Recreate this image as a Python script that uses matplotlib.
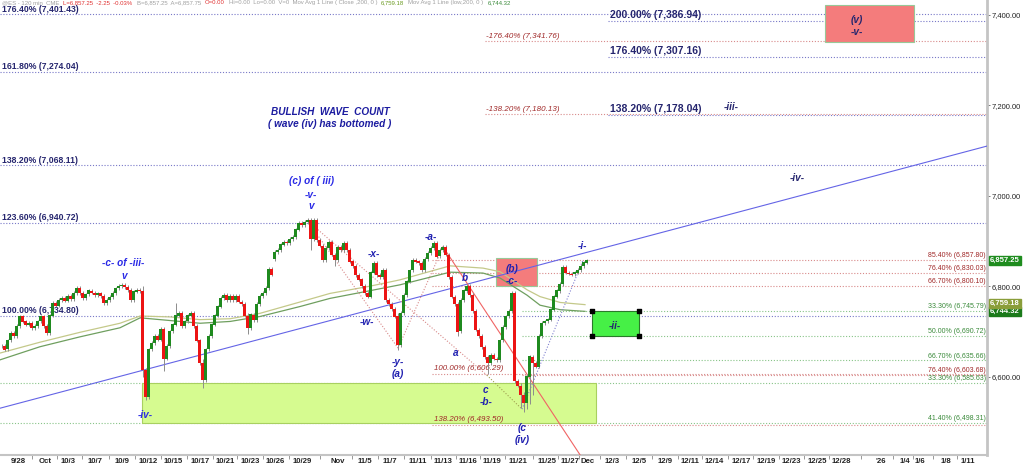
import matplotlib.pyplot as plt
import matplotlib.patches as mpatches
import matplotlib.transforms as mtransforms
import numpy as np

plt.rcParams['font.family'] = ['Liberation Sans', 'DejaVu Sans']

# ES 120 min closes, one per bar slot
closes = [6668, 6660, 6680, 6696, 6690, 6712, 6733, 6722, 6715, 6718,
          6708, 6712, 6722, 6733, 6712, 6696, 6735, 6763, 6757, 6770,
          6774, 6768, 6778, 6772, 6785, 6796, 6785, 6774, 6782, 6790,
          6786, 6780, 6784, 6778, 6763, 6770, 6776, 6785, 6795, 6800,
          6803, 6798, 6792, 6770, 6788, 6792, 6790, 6614, 6555, 6660,
          6674, 6690, 6682, 6705, 6640, 6668, 6700, 6715, 6735, 6740,
          6712, 6722, 6735, 6740, 6712, 6680, 6630, 6592, 6660, 6690,
          6715, 6735, 6755, 6774, 6780, 6770, 6778, 6770, 6778, 6766,
          6760, 6735, 6707, 6737, 6725, 6760, 6778, 6785, 6796, 6838,
          6826, 6876, 6880, 6892, 6898, 6895, 6905, 6909, 6925, 6940,
          6935, 6942, 6946, 6905, 6946, 6902, 6890, 6858, 6885, 6898,
          6870, 6858, 6887, 6880, 6895, 6880, 6855, 6845, 6825, 6815,
          6800, 6785, 6777, 6830, 6851, 6825, 6821, 6836, 6770, 6760,
          6750, 6733, 6670, 6740, 6780, 6810, 6835, 6858, 6855, 6851,
          6836, 6860, 6873, 6885, 6895, 6866, 6880, 6887, 6870, 6820,
          6777, 6760, 6700, 6770, 6790, 6800, 6780, 6745, 6704, 6690,
          6665, 6644, 6630, 6648, 6640, 6637, 6680, 6710, 6733, 6745,
          6785, 6590, 6580, 6560, 6542, 6600, 6644, 6630, 6622, 6690,
          6718, 6722, 6726, 6748, 6777, 6790, 6805, 6843, 6830, 6828,
          6826, 6830, 6836, 6845, 6852, 6857.25]
open_gaps = {91: 6860}
# slot -> (high, low) for the bars with long wicks
wick_spikes = {47: (6800, 6600), 48: (6620, 6548), 54: (6706, 6612), 58: (6762, 6712),
               67: (6640, 6575), 82: (6740, 6695), 103: (6946, 6880), 111: (6872, 6845),
               132: (6740, 6658), 152: (6762, 6690), 162: (6648, 6605), 170: (6790, 6740),
               171: (6787, 6585), 173: (6585, 6530), 174: (6565, 6522), 175: (6605, 6528),
               176: (6646, 6540), 177: (6648, 6560)}

# 200 bar moving averages
ma_slots = [-0.5, 12.8, 26.2, 39.5, 46.2, 56.2, 66.2, 76.2, 86.2, 99.5,
            109.5, 122.8, 132.8, 149.5, 160.5, 166.2, 175.2, 179.5, 186.2, 194.5]
ma_close = [6652, 6676, 6698, 6718, 6734, 6732, 6726, 6728, 6740, 6765,
            6784, 6800, 6814, 6845, 6840, 6832, 6792, 6777, 6764, 6759.18]
ma_low = [6637, 6666, 6688, 6708, 6730, 6724, 6718, 6722, 6733, 6755,
          6773, 6790, 6803, 6831, 6829, 6818, 6780, 6758, 6748, 6744.32]

# wave pivots (slot, price)
peak = (101.8, 6946)
y_low = (132.2, 6663)
a_top = (147.2, 6887)
b_low = (161.8, 6603)
c_low = (173.5, 6528)
i_top = (193.8, 6857)
c_leg_end = (197.0, 6385)
trend = [(-0.5, 6530), (328.5, 7110)]

# fib levels
full_blue = [7401.43, 7274.04, 7068.11, 6940.72, 6734.80]
full_blue_lbl = ['176.40% (7,401.43)', '161.80% (7,274.04)', '138.20% (7,068.11)',
                 '123.60% (6,940.72)', '100.00% (6,734.80)']
ext_blue = [7386.94, 7307.16, 7178.04]
ext_blue_lbl = ['200.00% (7,386.94)', '176.40% (7,307.16)', '138.20% (7,178.04)']
ext_red = [7341.76, 7180.13]
ext_red_lbl = ['-176.40% (7,341.76)', '-138.20% (7,180.13)']
proj_red = [6606.29, 6493.50]
proj_red_lbl = ['100.00% (6,606.29)', '138.20% (6,493.50)']
retr_red = [6857.80, 6830.03, 6800.10]
retr_red_lbl = ['85.40% (6,857.80)', '76.40% (6,830.03)', '66.70% (6,800.10)']
retr_green = [6745.79, 6690.72, 6635.66]
retr_green_lbl = ['33.30% (6,745.79)', '50.00% (6,690.72)', '66.70% (6,635.66)']
low_red = 6603.68
low_green = [6585.63, 6498.31]
low_green_lbl = ['33.30% (6,585.63)', '41.40% (6,498.31)']

tick_slots = [5.5, 14.5, 22.2, 31.2, 40.2, 48.8, 57.2, 66.2, 74.5, 82.8, 91.2, 100.2,
              112.2, 121.2, 129.5, 138.8, 147.2, 155.5, 163.5, 172.2, 181.8, 189.5,
              195.2, 203.5, 212.5, 221.2, 229.5, 237.5, 246.5, 254.8, 263.2, 271.8,
              279.8, 293.2, 301.2, 306.2, 314.8, 322.2]
tick_labels = ['9/28', 'Oct', '10/3', '10/7', '10/9', '10/12', '10/15', '10/17', '10/21',
               '10/23', '10/26', '10/29', 'Nov', '11/5', '11/7', '11/11', '11/13', '11/16',
               '11/19', '11/21', '11/25', '11/27', 'Dec', '12/3', '12/5', '12/9', '12/11',
               '12/14', '12/17', '12/19', '12/23', '12/25', '12/28', "'26", '1/4', '1/6',
               '1/8', '1/11']

NAVY = '#25256e'
WAVE = '#2020b0'
WAVE2 = '#2a2ae6'
DRED = '#a02828'
DGRN = '#3a8a3a'
BLUE_DOT = '#7878c8'
RED_DOT = '#d88a8a'
GRN_DOT = '#88c488'

fig = plt.figure(figsize=(10.24, 4.69), dpi=100)
ax = fig.add_axes([0, 14 / 469, 987 / 1024, 455 / 469])
ax.set_xlim(-0.5, 328.5)
ax.set_ylim(6426.5, 7433.2)

dot = (0, (1, 1.6))

def hline(y, x0, color):
    ax.plot([x0, 328.5], [y, y], color=color, lw=0.8, ls=dot, zorder=1)

for v in full_blue:
    hline(v, -0.5, BLUE_DOT)
for v in ext_blue:
    hline(v, 202.2, BLUE_DOT)
for v in ext_red:
    hline(v, 161.2, RED_DOT)
for v in retr_red + proj_red:
    hline(v, 143.5, RED_DOT)
for v in retr_green:
    hline(v, 173.5, GRN_DOT)
hline(low_red, 173.5, RED_DOT)
for v in low_green:
    hline(v, -0.5, GRN_DOT)

# boxes
ax.add_patch(mpatches.Rectangle((46.8, low_green[1]), 198.2 - 46.8, low_green[0] - low_green[1],
                                facecolor='#d6fb90', edgecolor='#a8d060', lw=0.8, zorder=2))
ax.add_patch(mpatches.Rectangle((164.8, 6800.10), 178.5 - 164.8, 6862 - 6800.10,
                                facecolor='#f47c7c', edgecolor='#98c898', lw=0.8, zorder=2))
ax.add_patch(mpatches.Rectangle((196.8, 6690.72), 212.5 - 196.8, 6745.79 - 6690.72,
                                facecolor='#46f046', edgecolor='#2a7a2a', lw=0.8, zorder=2))
ax.scatter([196.8, 212.5, 196.8, 212.5], [6690.72, 6690.72, 6745.79, 6745.79],
           marker='s', s=8, color='black', zorder=3)
ax.add_patch(mpatches.Rectangle((274.5, 7340), 304.2 - 274.5, 7423 - 7340,
                                facecolor='#f47c7c', edgecolor='#98c898', lw=0.8, zorder=2))

# moving averages
ax.plot(ma_slots, ma_close, color='#c4c98a', lw=0.9, zorder=3)
ax.plot(ma_slots, ma_low, color='#6f9f5f', lw=0.9, zorder=3)

# trendline and wave paths
ax.plot([trend[0][0], trend[1][0]], [trend[0][1], trend[1][1]], color='#6464e6', lw=0.8, zorder=3)
for p, q, c in [(peak, y_low, RED_DOT), (peak, b_low, RED_DOT), (y_low, a_top, RED_DOT),
                (b_low, c_low, '#a0a050'), (c_low, i_top, '#8080d0')]:
    ax.plot([p[0], q[0]], [p[1], q[1]], color=c, lw=0.8, ls=dot, zorder=3)
ax.plot([a_top[0], c_leg_end[0]], [a_top[1], c_leg_end[1]], color='#f06464', lw=0.8, zorder=3)

# candles
x = np.arange(len(closes))
c = np.array(closes, dtype=float)
o = np.r_[c[0], c[:-1]]
for k, v in open_gaps.items():
    o[k] = v
hi = np.maximum(o, c) + 4
lo = np.minimum(o, c) - 4
for k, (h, l) in wick_spikes.items():
    hi[k] = max(h, hi[k])
    lo[k] = min(l, lo[k])
ax.vlines(x, lo, hi, color='#8c8c8c', lw=0.7, zorder=4)
up = c >= o
ax.bar(x[up], (c - o)[up] + 0.5, bottom=o[up], width=0.8, color='#1f8a1f', zorder=5)
ax.bar(x[~up], (c - o)[~up] - 0.5, bottom=o[~up], width=0.8, color='#ec1414', zorder=5)

# fib labels
for v, s in zip(full_blue, full_blue_lbl):
    ax.text(0.2, v + 1, s, color=NAVY, fontsize=6.2, fontweight='bold', va='bottom', ha='left')
for v, s in zip(ext_blue, ext_blue_lbl):
    ax.text(202.8, v + 2, s, color=NAVY, fontsize=7.5, fontweight='bold', va='bottom', ha='left')
for v, s in zip(ext_red, ext_red_lbl):
    ax.text(161.6, v + 3, s, color=DRED, fontsize=5.8, style='italic', va='bottom', ha='left')
for v, s in zip(proj_red, proj_red_lbl):
    ax.text(144.2, v + 3, s, color=DRED, fontsize=5.7, style='italic', va='bottom', ha='left')
right_lbls = list(zip(retr_red, retr_red_lbl, [DRED] * 3)) + \
    list(zip(retr_green, retr_green_lbl, [DGRN] * 3)) + \
    [(low_red, '76.40% (6,603.68)', DRED)] + list(zip(low_green, low_green_lbl, [DGRN] * 2))
for v, s, col in right_lbls:
    ax.text(328.2, v + 2, s, color=col, fontsize=5.0, va='bottom', ha='right')

# wave labels
waves = [('(c) of ( iii)', 103.2, 7032.7, WAVE2), ('-v-', 103.2, 7001.8, WAVE2), ('v', 103.2, 6977.4, WAVE2),
         ('-c- of -iii-', 40.5, 6851.3, WAVE2), ('v', 40.8, 6822.6, WAVE2), ('-iv-', 47.8, 6515, WAVE2),
         ('-x-', 124.2, 6871, WAVE), ('-w-', 121.8, 6720.8, WAVE), ('-y-', 132.2, 6632.3, WAVE),
         ('(a)', 132.2, 6605.7, WAVE), ('-a-', 143.2, 6908.8, WAVE), ('b', 154.5, 6818, WAVE),
         ('a', 151.5, 6652, WAVE), ('c', 161.2, 6570, WAVE), ('-b-', 161.5, 6543.8, WAVE),
         ('(c', 173.5, 6486.3, WAVE), ('(iv)', 173.5, 6459.7, WAVE), ('(b)', 170.2, 6838, WAVE),
         ('-c-', 170.0, 6811.5, WAVE), ('-i-', 193.8, 6889, WAVE), ('-ii-', 204.5, 6712, NAVY),
         ('-iii-', 243.2, 7196.5, NAVY), ('-iv-', 265.2, 7039.4, NAVY),
         ('(v)', 285.2, 7389, NAVY), ('-v-', 285.2, 7362.4, NAVY)]
for s, xx, yy, col in waves:
    ax.text(xx, yy, s, color=col, fontsize=7.2, fontweight='bold', style='italic',
            ha='center', va='center', zorder=6)
ax.text(109.5, 7185.4, 'BULLISH  WAVE  COUNT', color='#1c1ca0', fontsize=7.2,
        fontweight='bold', style='italic', ha='center', va='center')
ax.text(109.5, 7158.8, '( wave (iv) has bottomed )', color='#1c1ca0', fontsize=7.2,
        fontweight='bold', style='italic', ha='center', va='center')

# axes styling
for side in ['left', 'top']:
    ax.spines[side].set_visible(False)
ax.spines['right'].set_color('#c4c4c4')
ax.spines['right'].set_linewidth(2)
ax.spines['bottom'].set_color('#c4c4c4')
ax.spines['bottom'].set_linewidth(1.5)
ax.yaxis.tick_right()
ax.set_yticks([6600, 6800, 7000, 7200, 7400])
ax.set_yticklabels(['6,600.00', '6,800.00', '7,000.00', '7,200.00', '7,400.00'])
ax.tick_params(axis='y', length=2.5, width=0.6, color='#666666', pad=0.5, labelsize=5.5,
               labelcolor='#222222')
ax.set_xticks(tick_slots)
ax.set_xticklabels(tick_labels)
ax.set_xticks([(a + b) / 2 for a, b in zip(tick_slots[:-1], tick_slots[1:])], minor=True)
ax.tick_params(axis='x', which='major', length=0, pad=2.5, labelsize=5.6, labelcolor='#222222')
ax.tick_params(axis='x', which='minor', length=3, width=0.6, color='#888888')
for lab in ax.get_xticklabels():
    lab.set_fontweight('bold')

# last price tags
trans = mtransforms.blended_transform_factory(ax.transAxes, ax.transData)
for v, s, col in [(6857.25, '6,857.25', '#1e8c1e'), (6744.32, '6,744.32', '#1a7a1a'),
                  (6761.5, '6,759.18', '#8a9e3a')]:
    ax.text(1.003, v, s, transform=trans, color='white', fontsize=5.5, fontweight='bold',
            ha='left', va='center', zorder=7,
            bbox=dict(boxstyle='square,pad=0.12', facecolor=col, edgecolor=col))

# header line
renderer = fig.canvas.get_renderer()
hx = 2 / 1024
for s, col in [('@ES - 120 min  CME', '#a0a0a0'), ('L=6,857.25  -2.25  -0.03%', '#e03030'),
               ('B=6,857.25  A=6,857.75', '#a0a0a0'), ('O=0.00', '#e03030'),
               ('Hi=0.00  Lo=0.00  V=0  Mov Avg 1 Line ( Close ,200, 0 )', '#a0a0a0'),
               ('6,759.18', '#6a9a20'), ('Mov Avg 1 Line (low,200, 0 )', '#a0a0a0'),
               ('6,744.32', '#3a8a3a')]:
    t = fig.text(hx, 1 - 2.5 / 469, s, color=col, fontsize=4.3, va='center', ha='left')
    hx += (t.get_window_extent(renderer).width + 4) / fig.bbox.width

fig.savefig('out.png', dpi=100)
